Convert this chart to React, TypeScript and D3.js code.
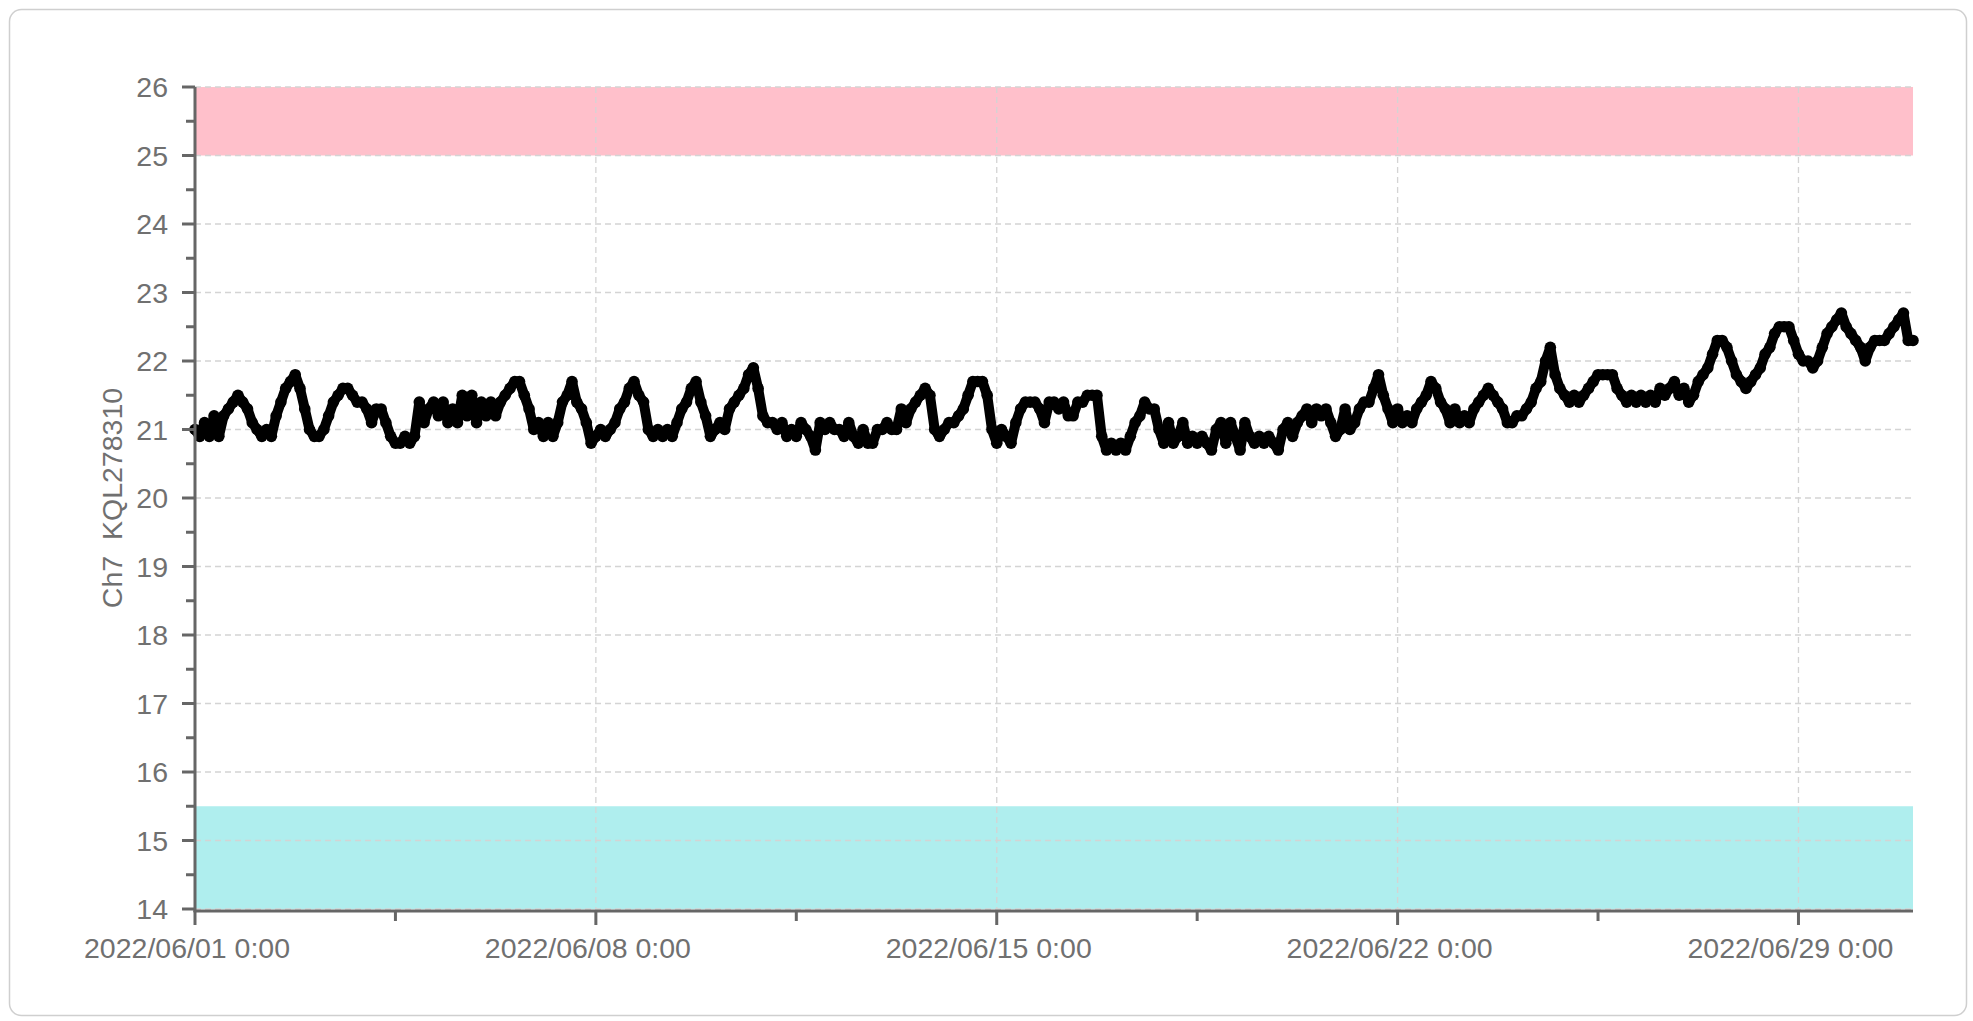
import React from "react";
import * as d3 from "d3";

// ---- data (2-hour readings, starting 2022/06/01 0:00) ----
const startTime = "2022/06/01 0:00";
const intervalHours = 2;
const seriesName = "Ch7  KQL278310";
const ch7Values: number[] = [
  21.0, 20.9, 21.1, 20.9, 21.2, 20.9, 21.2, 21.3, 21.4, 21.5, 21.4, 21.3,
  21.1, 21.0, 20.9, 21.0, 20.9, 21.2, 21.4, 21.6, 21.7, 21.8, 21.6, 21.3,
  21.0, 20.9, 20.9, 21.0, 21.2, 21.4, 21.5, 21.6, 21.6, 21.5, 21.4, 21.4,
  21.3, 21.1, 21.3, 21.3, 21.1, 20.9, 20.8, 20.8, 20.9, 20.8, 20.9, 21.4,
  21.1, 21.3, 21.4, 21.2, 21.4, 21.1, 21.3, 21.1, 21.5, 21.2, 21.5, 21.1,
  21.4, 21.2, 21.4, 21.2, 21.4, 21.5, 21.6, 21.7, 21.7, 21.5, 21.3, 21.0,
  21.1, 20.9, 21.1, 20.9, 21.1, 21.4, 21.5, 21.7, 21.4, 21.3, 21.1, 20.8,
  20.9, 21.0, 20.9, 21.0, 21.1, 21.3, 21.4, 21.6, 21.7, 21.5, 21.4, 21.0,
  20.9, 21.0, 20.9, 21.0, 20.9, 21.1, 21.3, 21.4, 21.6, 21.7, 21.4, 21.2,
  20.9, 21.0, 21.1, 21.0, 21.3, 21.4, 21.5, 21.6, 21.8, 21.9, 21.6, 21.2,
  21.1, 21.1, 21.0, 21.1, 20.9, 21.0, 20.9, 21.1, 21.0, 20.9, 20.7, 21.1,
  21.0, 21.1, 21.0, 21.0, 20.9, 21.1, 20.9, 20.8, 21.0, 20.8, 20.8, 21.0,
  21.0, 21.1, 21.0, 21.0, 21.3, 21.1, 21.3, 21.4, 21.5, 21.6, 21.5, 21.0,
  20.9, 21.0, 21.1, 21.1, 21.2, 21.3, 21.5, 21.7, 21.7, 21.7, 21.5, 21.0,
  20.8, 21.0, 20.9, 20.8, 21.1, 21.3, 21.4, 21.4, 21.4, 21.3, 21.1, 21.4,
  21.4, 21.3, 21.4, 21.2, 21.2, 21.4, 21.4, 21.5, 21.5, 21.5, 20.9, 20.7,
  20.8, 20.7, 20.8, 20.7, 20.9, 21.1, 21.2, 21.4, 21.3, 21.3, 21.0, 20.8,
  21.1, 20.8, 20.9, 21.1, 20.8, 20.9, 20.8, 20.9, 20.8, 20.7, 21.0, 21.1,
  20.8, 21.1, 20.9, 20.7, 21.1, 20.9, 20.8, 20.9, 20.8, 20.9, 20.8, 20.7,
  21.0, 21.1, 20.9, 21.1, 21.2, 21.3, 21.1, 21.3, 21.2, 21.3, 21.1, 20.9,
  21.0, 21.3, 21.0, 21.1, 21.3, 21.4, 21.4, 21.6, 21.8, 21.5, 21.3, 21.1,
  21.3, 21.1, 21.2, 21.1, 21.3, 21.4, 21.5, 21.7, 21.6, 21.4, 21.3, 21.1,
  21.3, 21.1, 21.2, 21.1, 21.3, 21.4, 21.5, 21.6, 21.5, 21.4, 21.3, 21.1,
  21.1, 21.2, 21.2, 21.3, 21.4, 21.6, 21.7, 22.0, 22.2, 21.8, 21.6, 21.5,
  21.4, 21.5, 21.4, 21.5, 21.6, 21.7, 21.8, 21.8, 21.8, 21.8, 21.6, 21.5,
  21.4, 21.5, 21.4, 21.5, 21.4, 21.5, 21.4, 21.6, 21.5, 21.6, 21.7, 21.5,
  21.6, 21.4, 21.5, 21.7, 21.8, 21.9, 22.1, 22.3, 22.3, 22.2, 22.0, 21.8,
  21.7, 21.6, 21.7, 21.8, 21.9, 22.1, 22.2, 22.4, 22.5, 22.5, 22.5, 22.3,
  22.1, 22.0, 22.0, 21.9, 22.0, 22.2, 22.4, 22.5, 22.6, 22.7, 22.5, 22.4,
  22.3, 22.2, 22.0, 22.2, 22.3, 22.3, 22.3, 22.4, 22.5, 22.6, 22.7, 22.3,
  22.3,
];

const xDomain = ["2022/06/01 0:00", "2022/07/01 0:00"];
const xMajorTicks = ["2022/06/01 0:00", "2022/06/08 0:00", "2022/06/15 0:00", "2022/06/22 0:00", "2022/06/29 0:00"];
const xMinorTicks = ["2022/06/04 12:00", "2022/06/11 12:00", "2022/06/18 12:00", "2022/06/25 12:00"];
const yDomain = [14, 26];
const yMajorTicks = [14, 15, 16, 17, 18, 19, 20, 21, 22, 23, 24, 25, 26];
const yMinorTicks = [14.5, 15.5, 16.5, 17.5, 18.5, 19.5, 20.5, 21.5, 22.5, 23.5, 24.5, 25.5];
const upperBand = [25, 26];
const lowerBand = [14, 15.5];

const parse = d3.timeParse("%Y/%m/%d %H:%M");
const fmt = d3.timeFormat("%Y/%m/%d %-H:%M");

export default function App() {
  const W = 1973, H = 1021;
  const left = 195, right = 1913, top = 87, bottom = 909;
  const x = d3.scaleTime().domain(xDomain.map((s) => parse(s) as Date)).range([left, right]);
  const y = d3.scaleLinear().domain(yDomain).range([bottom, top]);
  const t0 = parse(startTime) as Date;
  const pts = ch7Values.map((v, i) => ({ t: d3.timeHour.offset(t0, i * intervalHours), v }));
  const line = d3.line<{ t: Date; v: number }>().x((d) => x(d.t)).y((d) => y(d.v));
  const font = "'Liberation Sans', Arial, sans-serif";
  const textColor = "#707070";
  const axisColor = "#666";
  const gridColor = "#d4d4d4";

  return (
    <svg width={W} height={H} style={{ position: "absolute", left: 0, top: 0, display: "block" }}>
      <rect x={9.5} y={9.5} width={1957} height={1006} rx={12} fill="#fff" stroke="#cfcfcf" strokeWidth={1.5} />
      {/* bands */}
      <rect x={left} width={right - left} y={y(upperBand[1])} height={y(upperBand[0]) - y(upperBand[1])} fill="#ffc0cb" />
      <rect x={left} width={right - left} y={y(lowerBand[1])} height={y(lowerBand[0]) - y(lowerBand[1])} fill="#afeeee" />
      {/* grid */}
      {yMajorTicks.map((t) => (
        <line key={"gy" + t} x1={left} x2={right} y1={y(t)} y2={y(t)} stroke={gridColor} strokeWidth={1.3} strokeDasharray="6,4" />
      ))}
      {xMajorTicks.slice(1).map((s) => (
        <line key={"gx" + s} x1={x(parse(s) as Date)} x2={x(parse(s) as Date)} y1={top} y2={bottom} stroke={gridColor} strokeWidth={1.3} strokeDasharray="6,4" />
      ))}
      {/* series */}
      <path d={line(pts) || ""} fill="none" stroke="#000" strokeWidth={10} strokeLinejoin="round" strokeLinecap="round" />
      {pts.map((d, i) => (
        <circle key={i} cx={x(d.t)} cy={y(d.v)} r={5.8} fill="#000" />
      ))}
      {/* y axis */}
      <line x1={left} x2={left} y1={top} y2={bottom + 3} stroke={axisColor} strokeWidth={3} />
      {yMajorTicks.map((t) => (
        <g key={"yt" + t}>
          <line x1={left - 13} x2={left} y1={y(t)} y2={y(t)} stroke={axisColor} strokeWidth={3} />
          <text x={left - 27} y={y(t)} textAnchor="end" dominantBaseline="central" fontFamily={font} fontSize={28.5} fill={textColor}>
            {t}
          </text>
        </g>
      ))}
      {yMinorTicks.map((t) => (
        <line key={"ym" + t} x1={left - 9} x2={left} y1={y(t)} y2={y(t)} stroke={axisColor} strokeWidth={3} />
      ))}
      {/* x axis */}
      <line x1={left - 1.5} x2={right} y1={bottom + 2} y2={bottom + 2} stroke={axisColor} strokeWidth={3} />
      {xMajorTicks.map((s) => {
        const px = x(parse(s) as Date);
        return (
          <g key={"xt" + s}>
            <line x1={px} x2={px} y1={bottom + 2} y2={bottom + 16} stroke={axisColor} strokeWidth={3} />
            <text x={px - 8} y={958} textAnchor="middle" fontFamily={font} fontSize={28.5} fill={textColor}>
              {fmt(parse(s) as Date)}
            </text>
          </g>
        );
      })}
      {xMinorTicks.map((s) => {
        const px = x(parse(s) as Date);
        return <line key={"xm" + s} x1={px} x2={px} y1={bottom + 2} y2={bottom + 12} stroke={axisColor} strokeWidth={3} />;
      })}
      {/* y title */}
      <text
        transform={`translate(112, ${(top + bottom) / 2}) rotate(-90)`}
        textAnchor="middle"
        dominantBaseline="central"
        fontFamily={font}
        fontSize={28.5}
        fill={textColor}
        style={{ whiteSpace: "pre" }}
      >
        {seriesName}
      </text>
    </svg>
  );
}
